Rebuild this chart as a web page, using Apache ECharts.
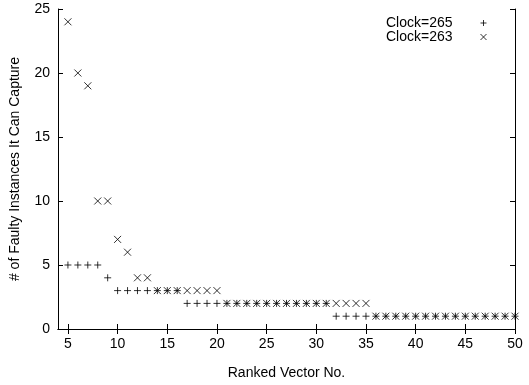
<!DOCTYPE html>
<html>
<head>
<meta charset="utf-8">
<script src="https://cdn.jsdelivr.net/npm/echarts@6/dist/echarts.min.js"></script>
<style>
  html, body { margin: 0; padding: 0; background: #fff; }
  #main { width: 529px; height: 385px; }
</style>
</head>
<body>
<div id="main"></div>
<script>
// ranked vector numbers (x)
var vectorNo = [5, 6, 7, 8, 9, 10, 11, 12, 13, 14, 15, 16, 17, 18, 19, 20,
  21, 22, 23, 24, 25, 26, 27, 28, 29, 30, 31, 32, 33, 34, 35,
  36, 37, 38, 39, 40, 41, 42, 43, 44, 45, 46, 47, 48, 49, 50];
// faulty instances captured, Clock=265
var clock265 = [5, 5, 5, 5, 4, 3, 3, 3, 3, 3, 3, 3, 2, 2, 2, 2,
  2, 2, 2, 2, 2, 2, 2, 2, 2, 2, 2, 1, 1, 1, 1,
  1, 1, 1, 1, 1, 1, 1, 1, 1, 1, 1, 1, 1, 1, 1];
// faulty instances captured, Clock=263
var clock263 = [24, 20, 19, 10, 10, 7, 6, 4, 4, 3, 3, 3, 3, 3, 3, 3,
  2, 2, 2, 2, 2, 2, 2, 2, 2, 2, 2, 2, 2, 2, 2,
  1, 1, 1, 1, 1, 1, 1, 1, 1, 1, 1, 1, 1, 1, 1];
var xTicks = [5, 10, 15, 20, 25, 30, 35, 40, 45, 50];

var font = 'Liberation Sans, Arial, Helvetica, sans-serif';
var plusPath = 'path://M0,3.5L7,3.5M3.5,0L3.5,7';
var crossPath = 'path://M0,0L7,7M0,7L7,0';

function pairs(ys) {
  return vectorNo.map(function (x, i) { return [x, ys[i]]; });
}

var myChart = echarts.init(document.getElementById('main'));

var axisLine = { show: true, lineStyle: { color: '#000', width: 1 } };
var markStyle = { color: 'transparent', borderColor: '#000', borderWidth: 1 };

myChart.setOption({
  backgroundColor: '#fff',
  animation: false,
  grid: { left: 56, right: 14, top: 9, bottom: 50 },
  legend: {
    orient: 'vertical',
    align: 'right',
    top: 11,
    right: 37,
    itemGap: 0,
    itemWidth: 6,
    itemHeight: 6,
    itemStyle: markStyle,
    textStyle: {
      fontFamily: font,
      fontSize: 14,
      lineHeight: 14,
      color: '#000',
      padding: [0, 23, 0, 0]
    },
    data: ['Clock=265', 'Clock=263']
  },
  xAxis: [{
    type: 'value',
    min: 4,
    max: 50,
    position: 'bottom',
    name: 'Ranked Vector No.',
    nameLocation: 'middle',
    nameGap: 37,
    nameTextStyle: { fontFamily: font, fontSize: 14, color: '#000' },
    axisLine: axisLine,
    axisTick: { show: true, inside: true, length: 5, customValues: xTicks, lineStyle: { color: '#000' } },
    axisLabel: { customValues: xTicks, margin: 8, fontFamily: font, fontSize: 14, color: '#000' },
    splitLine: { show: false }
  }, {
    type: 'value',
    min: 4,
    max: 50,
    position: 'top',
    axisLine: axisLine,
    axisTick: { show: true, inside: true, length: 5, customValues: xTicks, lineStyle: { color: '#000' } },
    axisLabel: { show: false },
    splitLine: { show: false }
  }],
  yAxis: [{
    type: 'value',
    min: 0,
    max: 25,
    interval: 5,
    position: 'left',
    name: '# of Faulty Instances It Can Capture',
    nameLocation: 'middle',
    nameGap: 36,
    nameTextStyle: { fontFamily: font, fontSize: 14, color: '#000' },
    axisLine: axisLine,
    axisTick: { show: true, inside: true, length: 5, lineStyle: { color: '#000' } },
    axisLabel: { margin: 8, fontFamily: font, fontSize: 14, color: '#000' },
    splitLine: { show: false }
  }, {
    type: 'value',
    min: 0,
    max: 25,
    interval: 5,
    position: 'right',
    axisLine: axisLine,
    axisTick: { show: true, inside: true, length: 5, lineStyle: { color: '#000' } },
    axisLabel: { show: false },
    splitLine: { show: false }
  }],
  series: [{
    name: 'Clock=265',
    type: 'scatter',
    symbol: plusPath,
    symbolSize: 7,
    itemStyle: markStyle,
    data: pairs(clock265)
  }, {
    name: 'Clock=263',
    type: 'scatter',
    symbol: crossPath,
    symbolSize: 7,
    itemStyle: markStyle,
    data: pairs(clock263)
  }]
});
</script>
</body>
</html>
